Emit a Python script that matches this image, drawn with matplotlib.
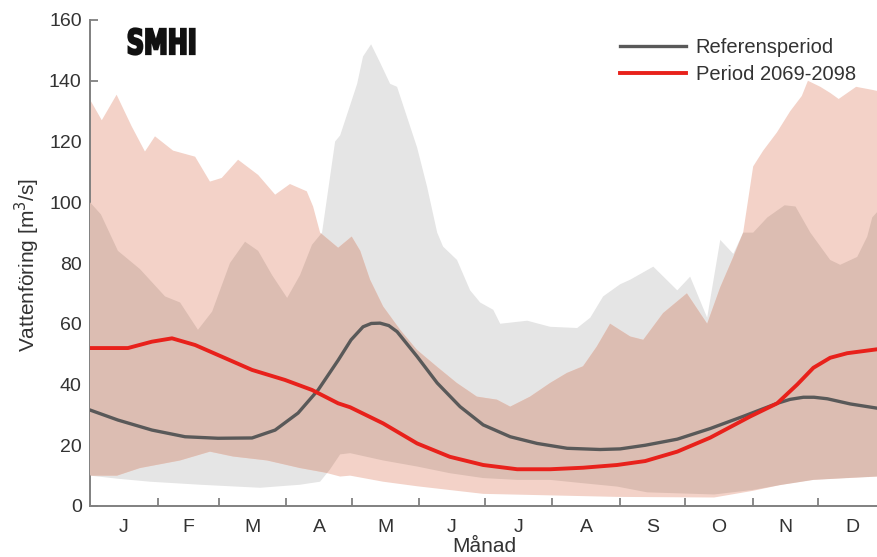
import numpy as np
import matplotlib
matplotlib.use("Agg")
import matplotlib.pyplot as plt
from matplotlib.textpath import TextPath
from matplotlib.patches import PathPatch
from matplotlib.font_manager import FontProperties
from matplotlib.transforms import Affine2D

plt.rcParams['font.family'] = ['Liberation Sans', 'DejaVu Sans']

# ---- data: daily discharge statistics (day of year, m3/s) ----
month_labels = ["J", "F", "M", "A", "M", "J", "J", "A", "S", "O", "N", "D"]
month_days = [31, 28, 31, 30, 31, 30, 31, 31, 30, 31, 30, 31]

# reference period: mean
ref_mean_day = [0, 12.8, 28.4, 43.6, 58.7, 74.3, 84.9, 95.4, 104.6, 113.8, 119.7, 125.2,
                129, 133, 137, 140.8, 150, 159.2, 169.7, 180.3, 192.7, 205, 218.8, 233.9,
                243.1, 254.6, 269.3, 284.4, 299.5, 315.1, 321, 327.1, 332, 338.1, 348.6,
                361, 365]
ref_mean = [31.6, 28.3, 25, 22.8, 22.3, 22.4, 25, 30.6, 38.2, 48, 54.7, 59,
            60.1, 60.2, 59.4, 57.4, 49.2, 40.5, 32.7, 26.7, 22.8, 20.6, 19, 18.6,
            18.8, 20, 22, 25.5, 29.5, 33.8, 35.1, 35.8, 35.8, 35.3, 33.6,
            32.2, 31.8]

# future period 2069-2098: mean
fut_mean_day = [0, 17.4, 28.4, 37.6, 48.2, 61.9, 74.3, 89.4, 101.8, 113.8, 119.3, 134.4,
                150, 165, 180.3, 195.9, 211, 226.1, 241.7, 254.6, 269.3, 284.4, 293.6,
                302.8, 315.1, 324.3, 331.7, 339.4, 347.2, 361, 365]
fut_mean = [52, 52, 54.1, 55.2, 53, 48.7, 44.8, 41.5, 38.2, 33.8, 32.5, 27.2,
            20.6, 16.2, 13.5, 12.1, 12.1, 12.6, 13.5, 14.8, 17.9, 22.5, 26,
            29.5, 33.8, 40, 45.5, 48.8, 50.3, 51.6, 51.8]

# reference period: upper envelope
ref_max_day = [0, 5, 12.8, 22.9, 34.4, 41.3, 49.5, 56, 64.2, 71.1, 77.1, 83.5, 90.4,
               96.3, 101.8, 106.4, 112.4, 114.7, 119.3, 122.5, 125.2, 128.9, 133,
               137.6, 140.8, 145.4, 150, 154.6, 159.2, 161.9, 168.3, 174.3, 178.9,
               184.9, 188.1, 200.5, 211, 223.4, 229.4, 235.3, 243.1, 247.7, 258.3,
               269.3, 275.2, 283, 289, 295, 299.5, 304.1, 310.6, 318.5, 323.5, 330.3,
               339.4, 344, 351.8, 356.4, 358.7, 365]
ref_max = [100, 96, 84, 78, 69, 67, 58, 64, 80, 87, 84, 76, 68.5,
           76, 86, 90, 120, 122, 132, 139, 148, 152, 146,
           139, 138, 128, 118, 105, 90, 85.4, 81, 71, 67,
           64.6, 60, 61, 59, 58.6, 62, 69, 73, 74.5, 78.8,
           71, 75.5, 62, 87.6, 83, 90, 90, 95, 99, 98.6, 90,
           81, 79.4, 82, 88.7, 95, 100]

# reference period: lower envelope
ref_min_day = [0, 12.4, 27.5, 50.5, 78, 96.3, 105.5, 110, 114.7, 119.3, 134.4, 150,
               165, 180.3, 195.9, 211, 226.1, 241.7, 255.5, 286.2, 304, 316.5, 331.7,
               347.2, 361, 365]
ref_min = [10, 9, 8, 7, 6, 7, 8, 12, 17, 17.4, 15, 13,
           10.8, 9.2, 8.6, 8.6, 7.5, 6.4, 4.5, 3.8, 5.3, 6.9, 8.6,
           9.2, 9.7, 10]

# future period: upper envelope
fut_max_day = [0, 5.4, 12.2, 19.1, 25.2, 29.8, 38.1, 48.2, 55, 60.4, 67.9, 77.1, 84.9,
               91.7, 99.4, 102.3, 105.5, 113.8, 120, 123.9, 128.4, 134.4, 142.2, 149.9,
               159, 168.2, 177.4, 186.6, 192.7, 201.8, 211, 218.7, 226.1, 232.4, 238.5,
               247.7, 253.7, 262.8, 273.7, 283, 289, 295, 299.5, 304.1, 308.7, 315,
               321.1, 326.4, 329.2, 334.9, 339.4, 343.3, 351.3, 358.7, 365]
fut_max = [133.8, 127, 135.4, 125, 116.7, 121.7, 117, 115, 106.8, 108, 114, 109, 102.5,
           106, 103.6, 98.6, 90, 85, 88.7, 84, 74.5, 65.7, 58, 51.4,
           45.9, 40.5, 36, 35, 32.7, 36, 40.5, 43.8, 46, 52.5, 60,
           55.8, 54.7, 63.5, 70, 60, 72, 82, 90, 111.8, 117, 123,
           130, 135, 140, 138, 136, 134, 138, 137, 136]

# future period: lower envelope
fut_min_day = [0, 12.4, 22.9, 41.3, 55, 65.6, 81.2, 96.3, 107.8, 114.7, 119.3, 134.4,
               150, 180.3, 211, 241.7, 286.2, 304, 316.5, 331.7, 347.2, 361, 365]
fut_min = [10, 10, 12.5, 15, 17.9, 16.3, 15, 12.5, 11, 9.7, 10, 8,
           6.5, 4, 3.5, 3, 2.8, 5.0, 6.9, 8.6, 9.2, 9.7, 10]

# ---- figure ----
W, H = 878, 557
fig = plt.figure(figsize=(W / 100, H / 100), dpi=100)
ax_left, ax_bottom, ax_w, ax_h = 90, 51, 796, 486
ax = fig.add_axes([ax_left / W, ax_bottom / H, ax_w / W, ax_h / H])

grey_fill = "#e5e5e5"
pink_fill = "#f3d2c8"
overlap_fill = "#dcbdb2"
text_col = "#333333"

ref_poly = ax.fill(np.r_[ref_max_day, ref_min_day[::-1]], np.r_[ref_max, ref_min[::-1]],
                   color=grey_fill, lw=0, zorder=1)[0]
fut_x = np.r_[fut_max_day, fut_min_day[::-1]]
fut_y = np.r_[fut_max, fut_min[::-1]]
ax.fill(fut_x, fut_y, color=pink_fill, lw=0, zorder=2)
over = ax.fill(fut_x, fut_y, color=overlap_fill, lw=0, zorder=3)[0]
over.set_clip_path(ref_poly)

ax.plot(ref_mean_day, ref_mean, color="#595959", lw=2.4, zorder=5,
        label="Referensperiod", solid_joinstyle="round")
ax.plot(fut_mean_day, fut_mean, color="#e8211b", lw=2.8, zorder=6,
        label="Period 2069-2098", solid_joinstyle="round")

ax.set_xlim(0, 365)
ax.set_ylim(0, 160)

bounds = np.cumsum(month_days)[:-1]
mids = np.cumsum(month_days) - np.array(month_days) / 2
ax.set_xticks(bounds)
ax.set_xticklabels([])
ax.set_xticks(mids, minor=True)
ax.set_xticklabels(month_labels, minor=True)
ax.tick_params(axis="x", which="major", direction="in", length=6, width=1.3, color="#808080")
ax.tick_params(axis="x", which="minor", length=0, pad=9, labelsize=14, labelcolor=text_col)
ax.set_yticks(np.arange(0, 161, 20))
ax.tick_params(axis="y", direction="in", length=6, width=1.3, color="#808080",
               labelsize=14, labelcolor=text_col, pad=6)

for s in ["top", "right"]:
    ax.spines[s].set_visible(False)
for s in ["left", "bottom"]:
    ax.spines[s].set_color("#808080")
    ax.spines[s].set_linewidth(1.4)

fig.text(484 / W, 1 - 546 / H, "Månad", fontsize=15, color=text_col,
         ha="center", va="center")
fig.text(27 / W, 1 - 265 / H, "Vattenföring [m$^3$/s]", fontsize=15, color=text_col,
         ha="center", va="center", rotation=90)

leg = ax.legend(loc="upper left", bbox_to_anchor=((620 - ax_left) / ax_w, (506 - 38) / ax_h),
                frameon=False, fontsize=14.5, handlelength=3.3, handletextpad=0.45,
                labelspacing=0.38, borderaxespad=0, borderpad=0)
for t in leg.get_texts():
    t.set_color(text_col)

# SMHI logo as a condensed heavy wordmark
tp = TextPath((0, 0), "SMHI", size=1, prop=FontProperties(family="DejaVu Sans", weight="bold"))
bb = tp.get_extents()
logo_tr = (Affine2D().translate(-bb.x0, -bb.y0)
           .scale(66 / bb.width, 26 / bb.height)
           .translate(128.5, H - 54.5))
fig.add_artist(PathPatch(tp, transform=logo_tr, facecolor="#111111", edgecolor="#111111", lw=1.6))

fig.savefig("out.png", dpi=100)
